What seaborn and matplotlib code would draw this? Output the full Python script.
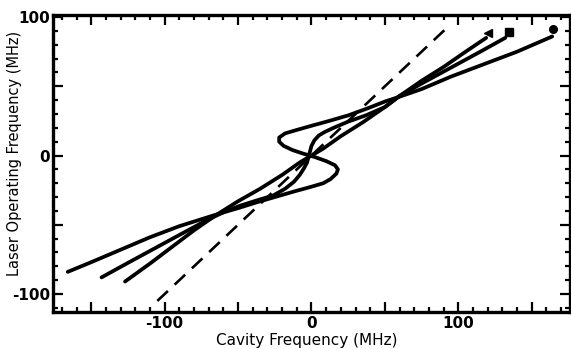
import matplotlib
matplotlib.use("Agg")
import matplotlib.pyplot as plt
import seaborn as sns
import pandas as pd
from matplotlib.ticker import MultipleLocator, FixedLocator, FixedFormatter

# ---- data ----
circle_x = [-166, -150, -130, -110, -90, -75, -63, -50, -38, -25, -12, 0, 8, 13, 17, 18, 16, 10, 2,
            -6, -13, -19, -22, -22, -18, -10, 0, 12, 25, 38, 50, 60, 75, 95, 115, 140, 164]
circle_y = [-84, -77, -68, -59, -51, -46, -42, -38, -34, -30, -26, -22.5, -20, -17, -13, -10, -7, -4, -1,
            1.5, 4, 7, 10, 13, 16, 18.5, 21.5, 25, 29, 34, 39, 42.5, 48, 57, 65, 75, 86]

square_x = [-143, -125, -105, -85, -70, -60, -48, -36, -26, -18, -12, -8, -5, -3, -2, -1, 0, 2, 5, 9,
            15, 25, 37, 50, 60, 75, 95, 115, 132]
square_y = [-88, -77.5, -66, -54.5, -46, -41, -36, -32, -28.8, -24, -19, -14, -9, -5, -1, 3, 7, 11, 14.5, 17,
            20, 24.5, 29, 35, 43, 52, 63.5, 75, 85]

tri_x = [-127, -110, -95, -80, -65, -50, -35, -20, -8, 0, 8, 20, 35, 50, 60, 75, 90, 105, 119]
tri_y = [-91, -78, -66, -54, -43, -33, -24, -14, -5, 0, 5, 14, 24, 35, 43, 54, 64, 75, 85]

dash_x = [-105, 95]
dash_y = [-105, 95]

marker_x = [120.5, 134.5, 164.5]
marker_y = [88.5, 89, 91.5]
marker_shapes = ["<", "s", "o"]

x_ticklabels = {-100: "-100", 0: "0", 100: "100"}
y_ticklabels = {-100: "-100", 0: "0", 100: "100"}

# ---- plotting ----
sns.set_theme(style="white")
plt.rcParams["font.family"] = ["DejaVu Sans"]
plt.rcParams["text.color"] = "black"
plt.rcParams["axes.labelcolor"] = "black"

fig = plt.figure(figsize=(5.71, 3.49), dpi=100)
ax = fig.add_axes([0.093, 0.106, 0.905, 0.851])

lw = 2.7
for xs, ys in [(circle_x, circle_y), (square_x, square_y), (tri_x, tri_y)]:
    df = pd.DataFrame({"x": xs, "y": ys})
    sns.lineplot(data=df, x="x", y="y", sort=False, estimator=None, color="black",
                 linewidth=lw, ax=ax, solid_capstyle="round", solid_joinstyle="round")

dfd = pd.DataFrame({"x": dash_x, "y": dash_y})
sns.lineplot(data=dfd, x="x", y="y", sort=False, estimator=None, color="black",
             linewidth=1.9, ax=ax, dashes=False)
ax.lines[-1].set_dashes([5.5, 3.5])

for mx, my, mk in zip(marker_x, marker_y, marker_shapes):
    ax.plot([mx], [my], marker=mk, color="black", markersize=5.5, linestyle="none")

ax.set_xlim(-176, 176)
ax.set_ylim(-113, 101.5)

xt = [-150, -100, -50, 0, 50, 100, 150]
yt = [-100, -50, 0, 50, 100]
ax.xaxis.set_major_locator(FixedLocator(xt))
ax.yaxis.set_major_locator(FixedLocator(yt))
ax.xaxis.set_major_formatter(FixedFormatter([x_ticklabels.get(v, "") for v in xt]))
ax.yaxis.set_major_formatter(FixedFormatter([y_ticklabels.get(v, "") for v in yt]))
ax.xaxis.set_minor_locator(MultipleLocator(10))
ax.yaxis.set_minor_locator(MultipleLocator(10))
ax.tick_params(which="both", direction="in", top=True, right=True, bottom=True, left=True,
               color="black", labelcolor="black", width=1.6)
ax.tick_params(which="major", length=7)
ax.tick_params(which="minor", length=3.5)
ax.tick_params(axis="x", which="major", pad=3, labelsize=11)
ax.tick_params(axis="y", which="major", pad=2, labelsize=11)
for lab in ax.get_xticklabels() + ax.get_yticklabels():
    lab.set_fontweight("bold")

for s in ax.spines.values():
    s.set_color("black")
    s.set_linewidth(2.4)

ax.set_xlabel("Cavity Frequency (MHz)", fontsize=11, fontweight="medium", color="black")
ax.set_ylabel("Laser Operating Frequency (MHz)", fontsize=10.5, fontweight="medium", color="black")
ax.xaxis.set_label_coords(0.49, -0.072)
ax.yaxis.set_label_coords(-0.06, 0.535)

fig.savefig("out.png", dpi=100)
